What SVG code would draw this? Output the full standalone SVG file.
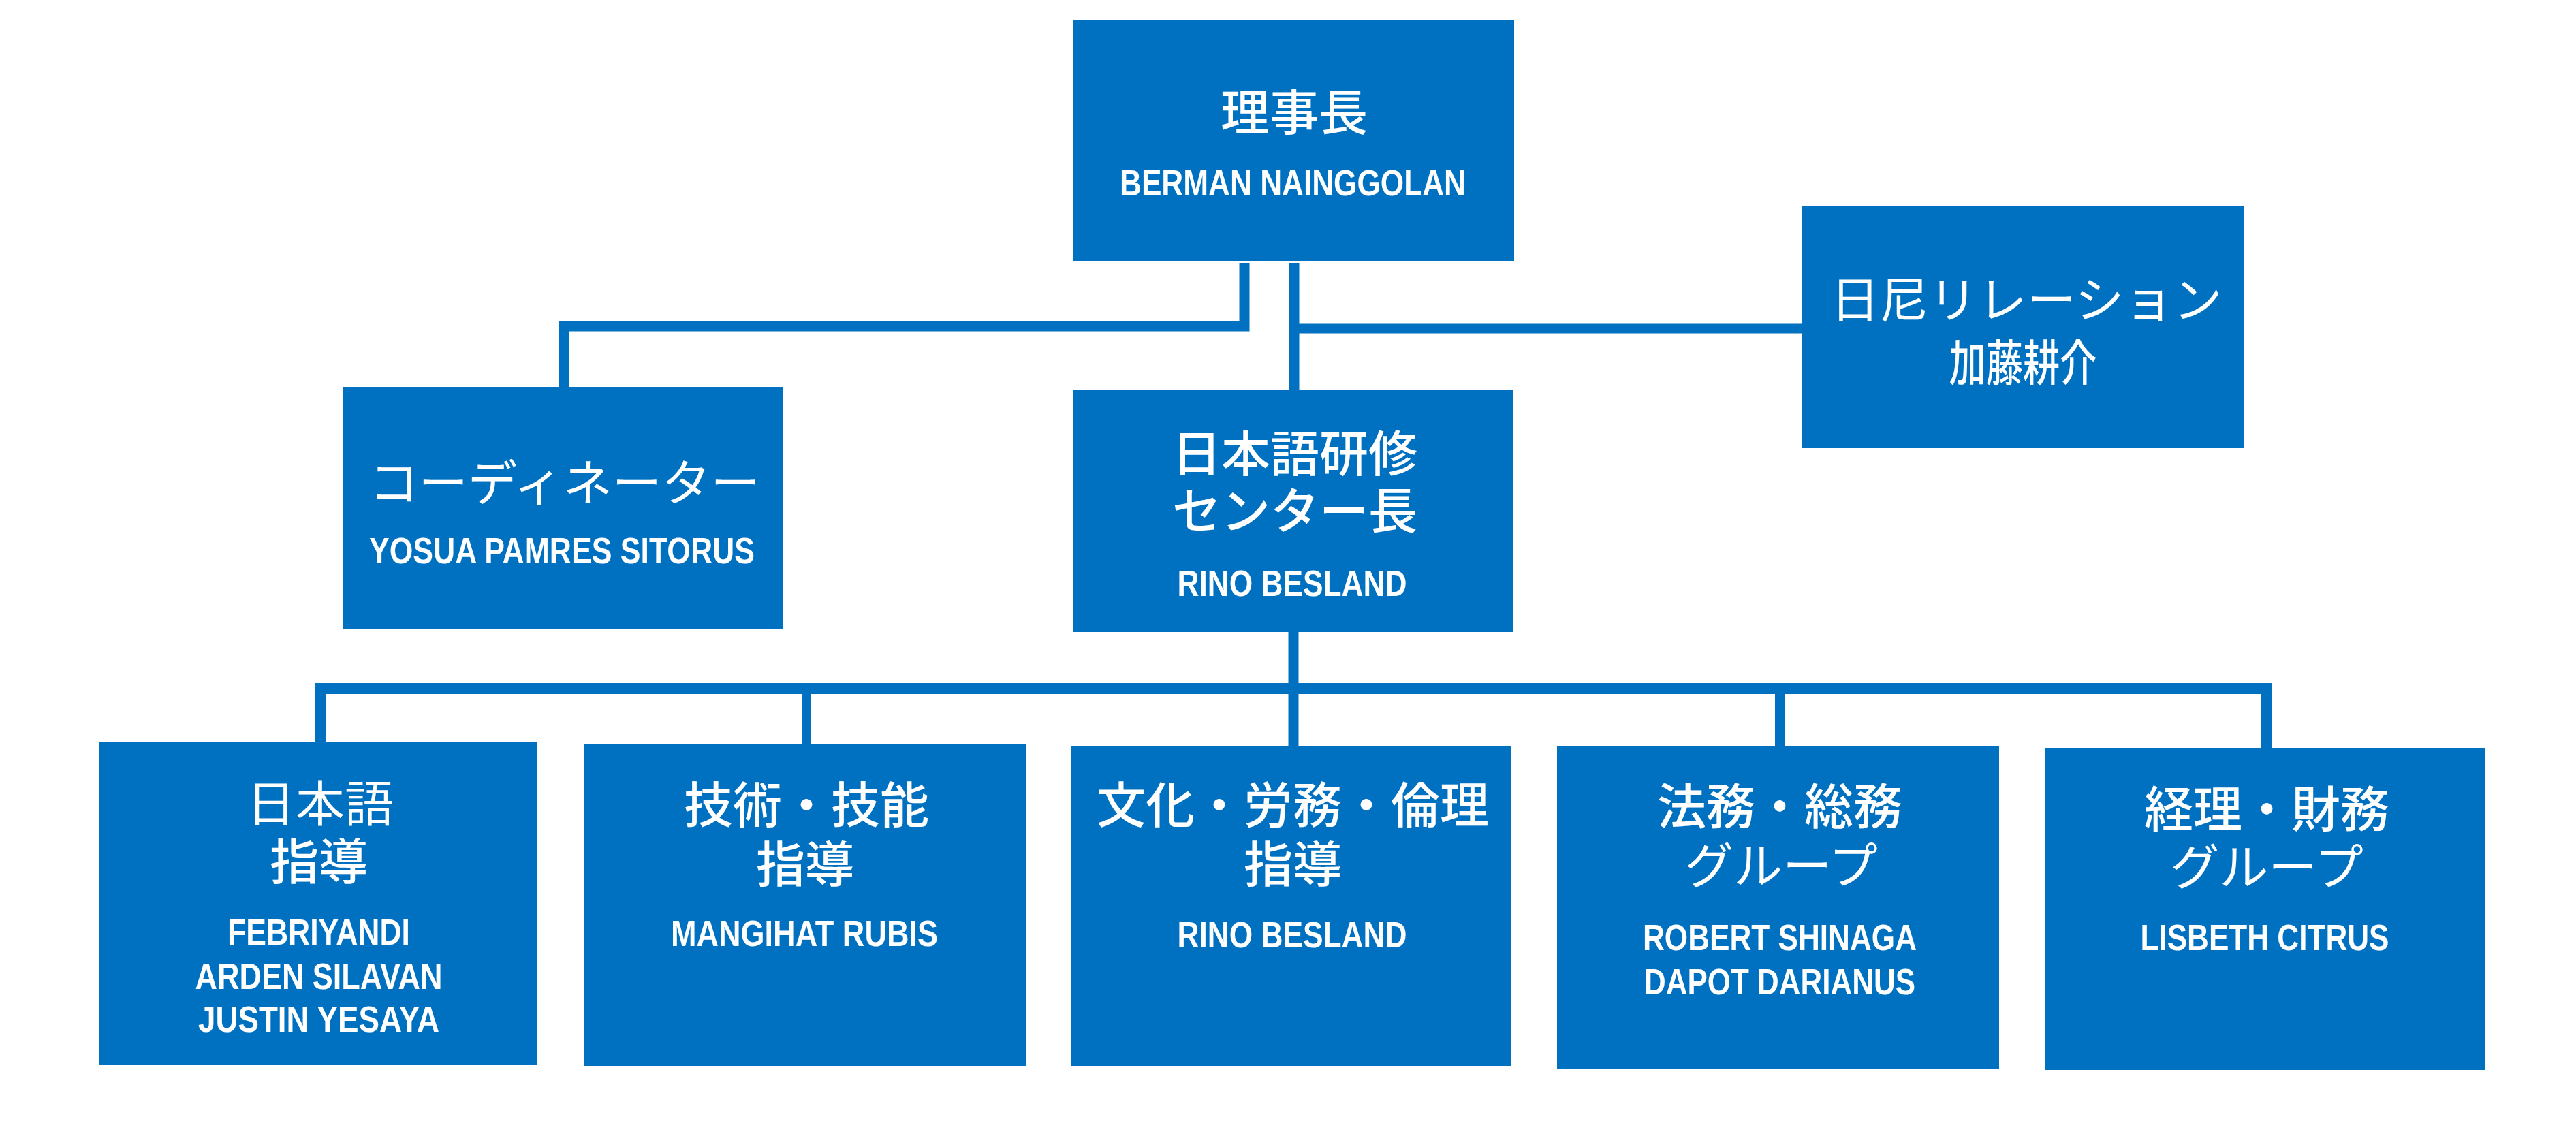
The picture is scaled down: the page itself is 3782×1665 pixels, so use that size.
<svg xmlns="http://www.w3.org/2000/svg" width="3782" height="1665" viewBox="0 0 3782 1665">
<style>
.box{fill:#0070C0}
.ln{fill:none;stroke:#0070C0;stroke-width:15;stroke-linecap:butt;stroke-linejoin:miter}
.jp{fill:#fff;font-family:"Noto Sans CJK JP","Noto Sans CJK SC",sans-serif;font-size:72px;font-weight:400;text-anchor:middle}
.jpb{fill:#fff;font-family:"Noto Sans CJK JP","Noto Sans CJK SC",sans-serif;font-size:72px;font-weight:500;text-anchor:middle}
.nm{fill:#fff;font-family:"Liberation Sans",Arial,sans-serif;font-size:54px;font-weight:700;text-anchor:middle}
</style>
<rect width="3782" height="1665" fill="#fff"/>
<g id="connectors">
<path class="ln" d="M1827 386 V479 H828 V568"/>
<path class="ln" d="M1900 386 V572"/>
<path class="ln" d="M1900 482 H2645"/>
<path class="ln" d="M1899 928 V1095"/>
<path class="ln" d="M471 1090 V1011 H3328 V1098" style="stroke-width:16"/>
<path class="ln" d="M1184 1011 V1092" style="stroke-width:14"/>
<path class="ln" d="M2613 1011 V1096" style="stroke-width:14"/>
</g>
<g id="chairman">
<rect class="box" x="1575" y="29" width="648" height="354"/>
<text class="jpb" x="1900" y="191">理事長</text>
<text class="nm" x="1898" y="287" font-size="52" textLength="508" lengthAdjust="spacingAndGlyphs">BERMAN NAINGGOLAN</text>
</g>
<g id="coordinator">
<rect class="box" x="504" y="568" width="646" height="355"/>
<text class="jp" x="829" y="735" textLength="574" lengthAdjust="spacingAndGlyphs">コーディネーター</text>
<text class="nm" x="825" y="827" textLength="566" lengthAdjust="spacingAndGlyphs">YOSUA PAMRES SITORUS</text>
</g>
<g id="relations">
<rect class="box" x="2645" y="302" width="649" height="356"/>
<text class="jp" x="2975" y="466" textLength="575" lengthAdjust="spacingAndGlyphs">日尼リレーション</text>
<text class="jpb" x="2970" y="559" font-size="54" font-weight="700" textLength="217" lengthAdjust="spacingAndGlyphs">加藤耕介</text>
</g>
<g id="center-head">
<rect class="box" x="1575" y="572" width="647" height="356"/>
<text class="jpb"><tspan x="1901" y="692">日本語研修</tspan><tspan x="1901" y="776">センター長</tspan></text>
<text class="nm" x="1897" y="875" font-size="56" textLength="337" lengthAdjust="spacingAndGlyphs">RINO BESLAND</text>
</g>
<g id="japanese">
<rect class="box" x="146" y="1090" width="643" height="473"/>
<text class="jp"><tspan x="470" y="1206">日本語</tspan><tspan x="468" y="1291" font-weight="500">指導</tspan></text>
<text class="nm" x="468" y="1387" textLength="268" lengthAdjust="spacingAndGlyphs">FEBRIYANDI</text>
<text class="nm" x="468" y="1452" textLength="363" lengthAdjust="spacingAndGlyphs">ARDEN SILAVAN</text>
<text class="nm" x="468" y="1515" textLength="354" lengthAdjust="spacingAndGlyphs">JUSTIN YESAYA</text>
</g>
<g id="technical">
<rect class="box" x="858" y="1092" width="649" height="473"/>
<text class="jpb"><tspan x="1184" y="1208">技術・技能</tspan><tspan x="1182" y="1295">指導</tspan></text>
<text class="nm" x="1181" y="1389" textLength="392" lengthAdjust="spacingAndGlyphs">MANGIHAT RUBIS</text>
</g>
<g id="culture">
<rect class="box" x="1573" y="1095" width="646" height="470"/>
<text class="jpb"><tspan x="1898" y="1208">文化・労務・倫理</tspan><tspan x="1898" y="1295">指導</tspan></text>
<text class="nm" x="1897" y="1391" font-size="56" textLength="337" lengthAdjust="spacingAndGlyphs">RINO BESLAND</text>
</g>
<g id="legal">
<rect class="box" x="2286" y="1096" width="649" height="473"/>
<text class="jpb"><tspan x="2613" y="1210">法務・総務</tspan><tspan x="2615" y="1297" font-weight="400">グループ</tspan></text>
<text class="nm" x="2613" y="1395" textLength="402" lengthAdjust="spacingAndGlyphs">ROBERT SHINAGA</text>
<text class="nm" x="2613" y="1460" textLength="398" lengthAdjust="spacingAndGlyphs">DAPOT DARIANUS</text>
</g>
<g id="finance">
<rect class="box" x="3002" y="1098" width="647" height="473"/>
<text class="jpb"><tspan x="3328" y="1214">経理・財務</tspan><tspan x="3328" y="1299" font-weight="400">グループ</tspan></text>
<text class="nm" x="3325" y="1395" textLength="365" lengthAdjust="spacingAndGlyphs">LISBETH CITRUS</text>
</g>
</svg>
